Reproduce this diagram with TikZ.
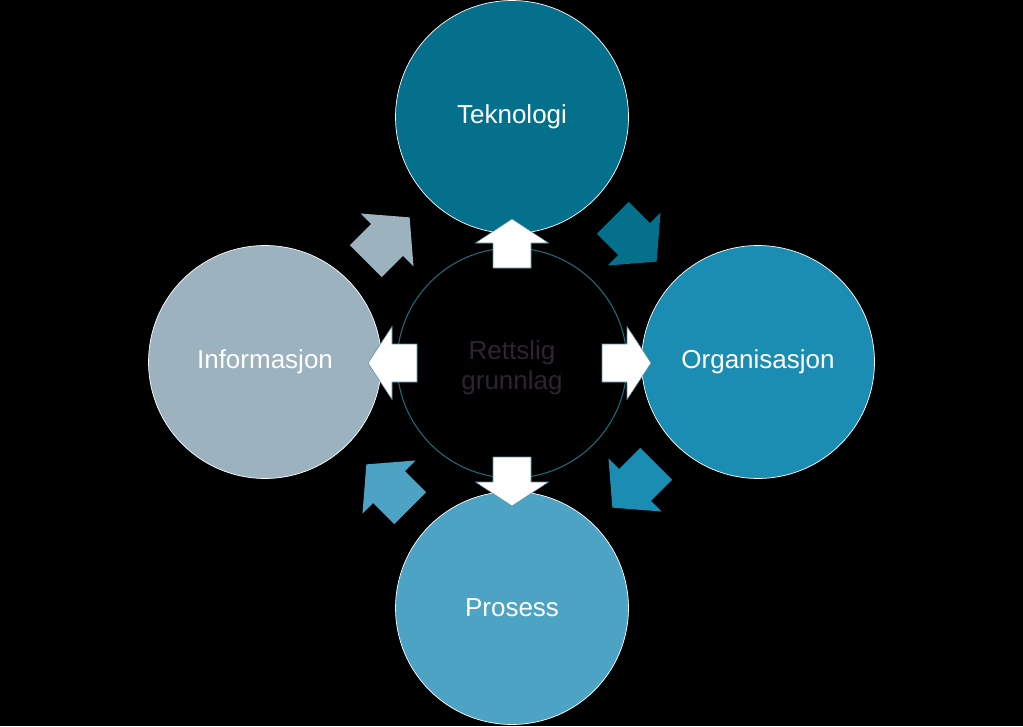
\documentclass[tikz,border=0pt]{standalone}
\usepackage{fontspec}
\setmainfont{Liberation Sans}
\usetikzlibrary{calc}
\definecolor{teknoblue}{HTML}{04708C}
\definecolor{orgablue}{HTML}{1B8DB2}
\definecolor{prosblue}{HTML}{4CA3C4}
\definecolor{infogray}{HTML}{9CB2BF}
\definecolor{rettline}{HTML}{1B6D77}
\definecolor{retttext}{HTML}{2E2430}
\definecolor{arrowline}{HTML}{5E8E9C}
\def\blockarrow[#1](#2)(#3:#4:#5:#6:#7){\filldraw[#1,shift={(#2)},rotate=#3] (-#4,-#6) -- (0,-#6) -- (0,-#7) -- (#5,0) -- (0,#7) -- (0,#6) -- (-#4,#6) -- cycle;}
\tikzset{
	ring/.style={circle, minimum size=4.66cm, inner sep=0pt, draw=white, line width=0.4pt, text=white, font=\fontsize{14.8}{17}\selectfont},
	hub/.style={circle, minimum size=4.6cm, inner sep=0pt, draw=rettline, line width=0.6pt, fill=black},
	hubtext/.style={inner sep=0pt, text=retttext, align=center, font=\fontsize{14.8}{17}\selectfont}
}

\begin{document}
\begin{tikzpicture}[x=0.02cm, y=-0.02cm]
			%%%%% START %%%%%
			
			\fill[black] (0, 0) rectangle (1023, 726);
			
			\node[ring, fill=teknoblue] (tek) at (512, 117) {Teknologi};
			\node[ring, fill=orgablue] (org) at (758, 362) {Organisasjon};
			\node[ring, fill=prosblue] (pros) at (512, 608) {Prosess};
			\node[ring, fill=infogray] (info) at (265, 362) {Informasjon};
			
			\node[hub] (rett) at (512, 363) {};
			\node[hubtext] (rettlabel) at ($(rett.center)+(0, 5)$) {Rettslig\\grunnlag};
			
			% cycle between the outer circles
			\coordinate (infotek) at ($(rett.center)+(-125, -123)$);
			\coordinate (tekorg) at ($(rett.center)+(122, -124)$);
			\coordinate (orgpros) at ($(rett.center)+(123, 122)$);
			\coordinate (prosinfo) at ($(rett.center)+(-123, 124)$);
			\blockarrow[draw=none, fill=infogray](infotek)(45:30:32:22.5:37.5);
			\blockarrow[draw=none, fill=teknoblue](tekorg)(-45:30:32:22.5:37.5);
			\blockarrow[draw=none, fill=orgablue](orgpros)(-135:30:32:22.5:37.5);
			\blockarrow[draw=none, fill=prosblue](prosinfo)(135:30:32:22.5:37.5);
			
			% from the centre outwards
			\coordinate (uptek) at ($(rett.center)+(0, -120)$);
			\coordinate (uporg) at ($(rett.center)+(115, 0)$);
			\coordinate (uppros) at ($(rett.center)+(0, 119)$);
			\coordinate (upinfo) at ($(rett.center)+(-120, 0)$);
			\blockarrow[draw=arrowline, fill=white, line width=0.3pt](uptek)(90:25:24:19:36.5);
			\blockarrow[draw=arrowline, fill=white, line width=0.3pt](uporg)(0:25:24:19:36.5);
			\blockarrow[draw=arrowline, fill=white, line width=0.3pt](uppros)(-90:25:24:19:36.5);
			\blockarrow[draw=arrowline, fill=white, line width=0.3pt](upinfo)(180:25:24:19:36.5);
			
			%%%%% END %%%%%
\end{tikzpicture}
\end{document}
